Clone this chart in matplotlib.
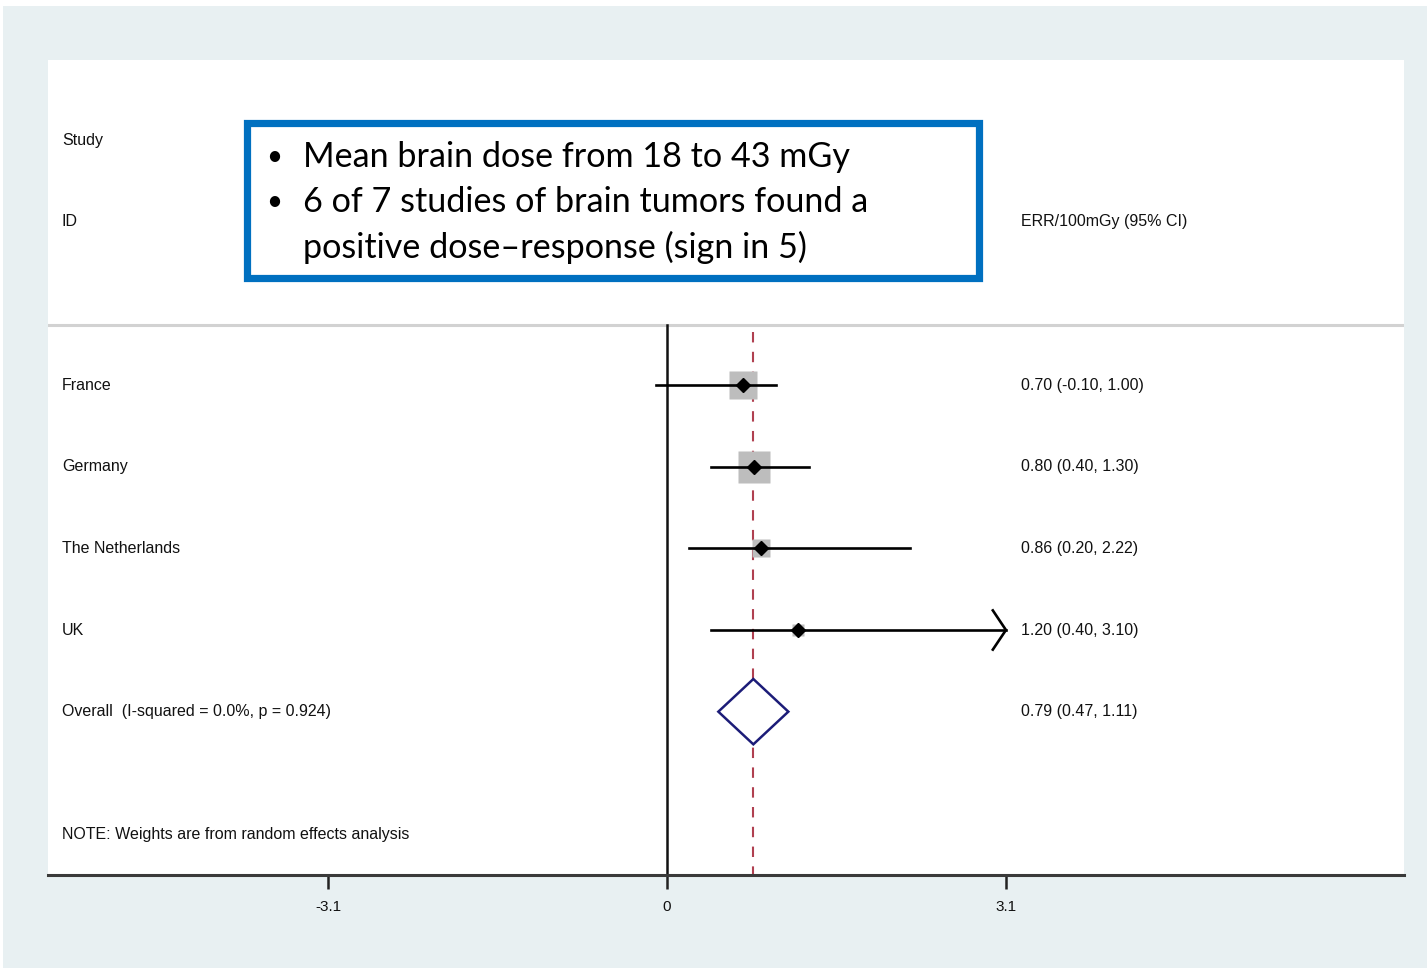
import matplotlib.pyplot as plt
import matplotlib.patches as mpatches
import matplotlib.transforms as mtransforms
import numpy as np

# Pooled ERR per 100 mGy for brain tumours, by country
studies = ['France', 'Germany', 'The Netherlands', 'UK']
err = [0.70, 0.80, 0.86, 1.20]
ci_low = [-0.10, 0.40, 0.20, 0.40]
ci_high = [1.00, 1.30, 2.22, 3.10]
weights = [33.1, 46.0, 13.7, 7.1]  # % weight, random effects

overall_label = 'Overall  (I-squared = 0.0%, p = 0.924)'
overall = 0.79
overall_low = 0.47
overall_high = 1.11

axis_ticks = [-3.1, 0, 3.1]
plot_max = 3.10  # CIs beyond this get an arrow

bullets = ['Mean brain dose from 18 to 43 mGy',
           '6 of 7 studies of brain tumors found a',
           'positive dose\u2013response (sign in 5)']

W, H = 1427, 968
fig = plt.figure(figsize=(W / 100, H / 100), dpi=100, facecolor='white')
fig.patches.append(mpatches.Rectangle((3 / W, 0), 1 - 3 / W, 1 - 6 / H,
                                      transform=fig.transFigure,
                                      facecolor='#e8f0f2', edgecolor='none', zorder=-5))

ax = fig.add_axes([48 / W, (H - 875) / H, (1404 - 48) / W, (875 - 60) / H])
ax.set_facecolor('white')
ax.set_xlim(-5.66, 6.74)
ax.set_ylim(6.0, -3.98)

txt = dict(fontsize=11.5, color='#111111', family='Liberation Sans', va='center')
tr = mtransforms.blended_transform_factory(ax.transAxes, ax.transData)
xl, xr = 0.0103, 0.7176

# header
ax.text(xl, -3, 'Study', transform=tr, **txt)
ax.text(xl, -2, 'ID', transform=tr, **txt)
ax.text(xr, -2, 'ERR/100mGy (95% CI)', transform=tr, **txt)
ax.axhline(-0.73, color='#d2d2d2', lw=2.2, zorder=1)

# null line and overall estimate line
ax.plot([0, 0], [-0.73, 6.0], color='#111111', lw=1.8, zorder=2)
ax.plot([overall, overall], [-0.65, 6.0], color='#b04050', lw=1.5,
        dashes=(5, 4.5), zorder=2)

for i, name in enumerate(studies):
    hi = min(ci_high[i], plot_max)
    ax.plot([ci_low[i], hi], [i, i], color='black', lw=1.9, zorder=3)
    if ci_high[i] >= plot_max:
        ax.plot([hi - 0.12, hi, hi - 0.12], [i - 0.24, i, i + 0.24],
                color='black', lw=1.9, zorder=3)
    side = 3.5 * np.sqrt(weights[i])
    ax.plot(err[i], i, marker='s', ms=side, color='#bdbdbd', mec='none', zorder=2.5)
    ax.plot(err[i], i, marker='D', ms=7.5, color='black', zorder=4)
    ax.text(xl, i, name, transform=tr, **txt)
    ax.text(xr, i, f'{err[i]:.2f} ({ci_low[i]:.2f}, {ci_high[i]:.2f})',
            transform=tr, **txt)

# pooled diamond
yo = len(studies)
ax.fill([overall_low, overall, overall_high, overall],
        [yo, yo - 0.4, yo, yo + 0.4], facecolor='white',
        edgecolor='#1c1c78', lw=1.8, zorder=4)
ax.text(xl, yo, overall_label, transform=tr, **txt)
ax.text(xr, yo, f'{overall:.2f} ({overall_low:.2f}, {overall_high:.2f})',
        transform=tr, **txt)

ax.text(xl, 5.5, 'NOTE: Weights are from random effects analysis', transform=tr, **txt)

for s in ['top', 'left', 'right']:
    ax.spines[s].set_visible(False)
ax.spines['bottom'].set_color('#3a3a3a')
ax.spines['bottom'].set_linewidth(2.2)
ax.set_yticks([])
ax.set_xticks(axis_ticks)
ax.set_xticklabels(['-3.1', '0', '3.1'], family='Liberation Sans', fontsize=11,
                   color='#111111')
ax.tick_params(axis='x', direction='out', length=10, width=1.8, pad=8,
               color='#222222')

# callout box
fig.patches.append(mpatches.Rectangle((247 / W, (H - 278) / H), (979 - 247) / W,
                                      (278 - 123) / H, transform=fig.transFigure,
                                      facecolor='white', edgecolor='#0070c0',
                                      lw=5.2, zorder=5))
for k, line in enumerate(bullets):
    y = (H - (157 + 45 * k)) / H
    if k < 2:
        fig.text(266 / W, y, '\u2022', fontsize=20, family='Lato', va='center',
                 color='black', zorder=6)
    fig.text(303 / W, y, line, fontsize=24.6, family='Lato', va='center',
             color='black', zorder=6)

fig.savefig('out.png', dpi=100, facecolor=fig.get_facecolor())
